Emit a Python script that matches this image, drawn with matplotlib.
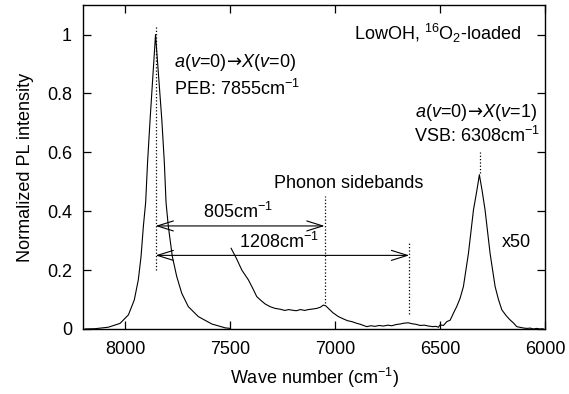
import matplotlib
matplotlib.use("Agg")
import matplotlib.pyplot as plt
from matplotlib.ticker import FormatStrFormatter

plt.rcParams['font.family'] = ['Liberation Sans', 'DejaVu Sans']
plt.rcParams['mathtext.fontset'] = 'custom'
plt.rcParams['mathtext.rm'] = 'Liberation Sans'
plt.rcParams['mathtext.it'] = 'Liberation Sans:italic'
plt.rcParams['mathtext.sf'] = 'DejaVu Sans'

# Main PEB peak (normalized)
peb_wn = [8190, 8143, 8080, 8024, 7984, 7956, 7937, 7924, 7913, 7902, 7893, 7881,
          7868, 7855, 7840, 7825, 7813, 7805, 7794, 7775, 7754, 7730, 7699, 7651,
          7587, 7524, 7500]
peb_int = [0.000, 0.001, 0.006, 0.019, 0.048, 0.099, 0.167, 0.246, 0.348, 0.43, 0.565, 0.71,
           0.855, 1.0, 0.855, 0.71, 0.565, 0.43, 0.348, 0.246, 0.178, 0.121, 0.076, 0.042,
           0.017, 0.004, 0.002]

# x50 magnified region (phonon sidebands + VSB)
sb_wn = [7495, 7470, 7444, 7413, 7390, 7373, 7350, 7333, 7310, 7286, 7260, 7240, 7220,
         7206, 7185, 7165, 7145, 7127, 7105, 7087, 7070, 7056, 7045, 7032, 7010, 6984,
         6960, 6940, 6920, 6900, 6880, 6865, 6849, 6830, 6810, 6790, 6770, 6750, 6730,
         6710, 6690, 6670, 6651, 6635, 6615, 6595, 6575, 6555, 6535, 6520, 6508, 6500,
         6484, 6468, 6452, 6437, 6421, 6405, 6389, 6365, 6341, 6325, 6313, 6300, 6286,
         6262, 6238, 6222, 6206, 6185, 6167, 6150, 6135, 6115, 6100, 6087, 6070, 6057,
         6040, 6025, 6010]
sb_int = [0.274, 0.240, 0.200, 0.167, 0.135, 0.110, 0.095, 0.085, 0.076, 0.070, 0.067, 0.063, 0.066,
          0.064, 0.062, 0.066, 0.063, 0.066, 0.068, 0.070, 0.074, 0.081, 0.079, 0.070, 0.055, 0.042,
          0.034, 0.028, 0.025, 0.020, 0.016, 0.012, 0.008, 0.011, 0.009, 0.012, 0.010, 0.013, 0.011,
          0.015, 0.017, 0.020, 0.021, 0.018, 0.016, 0.012, 0.013, 0.010, 0.008, 0.009, 0.006, 0.014,
          0.012, 0.025, 0.030, 0.053, 0.076, 0.104, 0.144, 0.257, 0.405, 0.470, 0.524, 0.470, 0.405,
          0.257, 0.144, 0.100, 0.065, 0.045, 0.031, 0.020, 0.008, 0.005, 0.003, 0.002, 0.003, 0.000,
          0.002, 0.000, 0.001]

peb_pos = 7855
shift_labels = ["805cm$^{-1}$", "1208cm$^{-1}$"]
shift_ends = [7050, 6647]
arrow_y = [0.35, 0.25]
label_x = [7462, 7268]

fig = plt.figure(figsize=(5.69, 3.94), dpi=100)
ax = fig.add_axes([0.146, 0.165, 0.812, 0.822])

ax.plot(peb_wn, peb_int, color='black', lw=0.8)
ax.plot(sb_wn, sb_int, color='black', lw=0.8)

# dotted markers
ax.plot([peb_pos, peb_pos], [0.2, 1.03], color='black', ls=':', lw=0.9)
ax.plot([7050, 7050], [0.088, 0.45], color='black', ls=':', lw=0.9)
ax.plot([6647, 6647], [0.05, 0.297], color='black', ls=':', lw=0.9)
ax.plot([6310, 6310], [0.53, 0.60], color='black', ls=':', lw=0.9)

for lab, end, y, lx in zip(shift_labels, shift_ends, arrow_y, label_x):
    ax.annotate('', xy=(end, y), xytext=(peb_pos, y),
                arrowprops=dict(arrowstyle='<->,head_length=1.15,head_width=0.36',
                                color='black', lw=0.8, shrinkA=0, shrinkB=0))
    ax.text(lx, y + 0.012, lab, fontsize=13, ha='center', va='bottom')

fs = 13
arr = "$\\!\\mathsf{\\rightarrow}\\!$"
ax.text(7766, 0.905, "$a$($v$=0)" + arr + "$X$($v$=0)", fontsize=fs, ha='left', va='center')
ax.text(7766, 0.815, "PEB: 7855cm$^{-1}$", fontsize=fs, ha='left', va='center')
ax.text(6112, 1.005, "LowOH, $^{16}$O$_{2}$-loaded", fontsize=fs, ha='right', va='center')
ax.text(6040, 0.735, "$a$($v$=0)" + arr + "$X$($v$=1)", fontsize=fs, ha='right', va='center')
ax.text(6025, 0.655, "VSB: 6308cm$^{-1}$", fontsize=fs, ha='right', va='center')
ax.text(6933, 0.493, "Phonon sidebands", fontsize=fs, ha='center', va='center')
ax.text(6138, 0.295, "x50", fontsize=fs, ha='center', va='center')

ax.set_xlim(8200, 6000)
ax.set_ylim(0, 1.1)
ax.set_xticks([8000, 7500, 7000, 6500, 6000])
ax.set_yticks([0, 0.2, 0.4, 0.6, 0.8, 1.0])
ax.yaxis.set_major_formatter(FormatStrFormatter('%g'))
ax.tick_params(direction='in', top=True, right=True, length=5.5, width=0.9,
               labelsize=fs)
ax.tick_params(axis='x', pad=9)
ax.tick_params(axis='y', pad=8)
for s in ax.spines.values():
    s.set_linewidth(1.0)

ax.set_xlabel("Wave number (cm$^{-1}$)", fontsize=fs, labelpad=5)
ax.set_ylabel("Normalized PL intensity", fontsize=fs, labelpad=9)

fig.savefig("out.png", dpi=100)
